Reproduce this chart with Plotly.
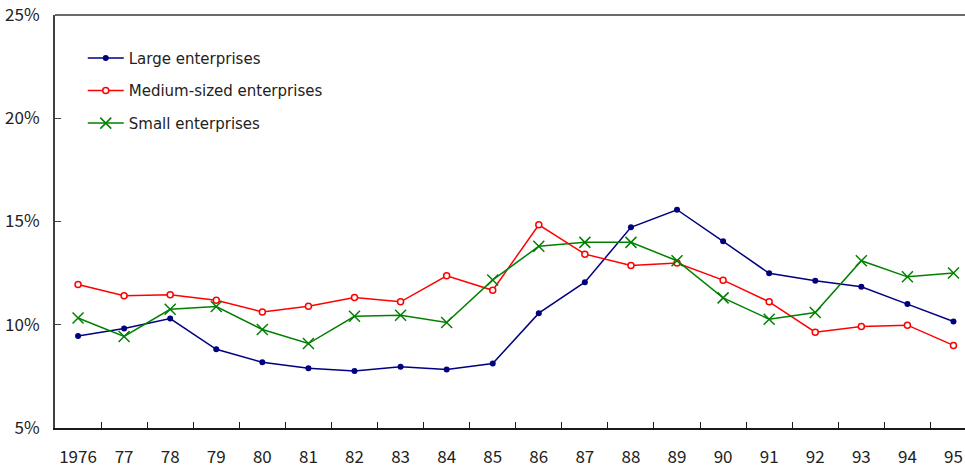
import plotly.graph_objects as go

# Fiscal years on the category axis
years = ["1976", "77", "78", "79", "80", "81", "82", "83", "84", "85",
         "86", "87", "88", "89", "90", "91", "92", "93", "94", "95"]

# Ratios (%) by enterprise size
large = [9.46, 9.82, 10.30, 8.81, 8.18, 7.89, 7.76, 7.97, 7.83, 8.12,
         10.56, 12.06, 14.72, 15.57, 14.04, 12.49, 12.13, 11.84, 11.00, 10.16]
medium = [11.95, 11.40, 11.45, 11.19, 10.62, 10.90, 11.32, 11.11, 12.37, 11.67,
          14.84, 13.42, 12.87, 12.99, 12.16, 11.11, 9.64, 9.91, 9.98, 9.00]
small = [10.33, 9.43, 10.75, 10.88, 9.77, 9.09, 10.41, 10.46, 10.11, 12.17,
         13.80, 13.99, 13.99, 13.10, 11.30, 10.27, 10.59, 13.10, 12.32, 12.51]

y_ticks = [5, 10, 15, 20, 25]
y_labels = ["5%", "10%", "15%", "20%", "25%"]

FONT = "Noto Sans CJK JP, Noto Sans, sans-serif"

fig = go.Figure()
fig.add_trace(go.Scatter(
    x=years, y=large, name="Large enterprises", mode="lines+markers",
    line=dict(color="#000080", width=1.5),
    marker=dict(symbol="circle", size=6, color="#000080"),
    legendgroup="a"))
fig.add_trace(go.Scatter(
    x=years, y=medium, name="Medium-sized enterprises", mode="lines+markers",
    line=dict(color="#FF0000", width=1.5),
    marker=dict(symbol="circle", size=6, color="white",
                line=dict(color="#FF0000", width=1.5)),
    legendgroup="b"))
fig.add_trace(go.Scatter(
    x=years, y=small, name="Small enterprises", mode="lines+markers",
    line=dict(color="#008000", width=1.5),
    marker=dict(symbol="x-thin", size=11, line=dict(color="#008000", width=1.5)),
    legendgroup="c"))

# Grey frame line along the top of the plot area
fig.add_shape(type="line", xref="paper", yref="paper", x0=0, x1=1, y0=1, y1=1,
              line=dict(color="#6a6a6a", width=2))

fig.update_layout(
    width=965, height=469,
    margin=dict(l=55, r=0, t=15, b=41),
    paper_bgcolor="white", plot_bgcolor="white",
    font=dict(family=FONT, size=15, color="#222222"),
    showlegend=True,
    legend=dict(x=0.0305, y=0.935, xanchor="left", yanchor="top",
                bgcolor="rgba(0,0,0,0)",
                font=dict(family="DejaVu Sans, sans-serif", size=15),
                traceorder="grouped", tracegroupgap=10, itemwidth=36),
    xaxis=dict(type="category", range=[-0.5, 19.25], automargin=False,
               showline=True, linecolor="#1a1a1a", linewidth=2,
               ticks="inside", ticklen=6, tickcolor="#1a1a1a", tickwidth=1,
               tickson="boundaries", showgrid=False, zeroline=False,
               tickangle=0, ticklabelstandoff=13, tickfont=dict(size=17)),
    yaxis=dict(range=[5, 25], tickvals=y_ticks, ticktext=y_labels,
               automargin=False,
               showline=True, linecolor="#404040", linewidth=2,
               ticks="inside", ticklen=6, tickcolor="#404040", tickwidth=1,
               showgrid=False, zeroline=False, ticklabelstandoff=10,
               tickfont=dict(size=17)),
)

fig.write_html("out.html")
